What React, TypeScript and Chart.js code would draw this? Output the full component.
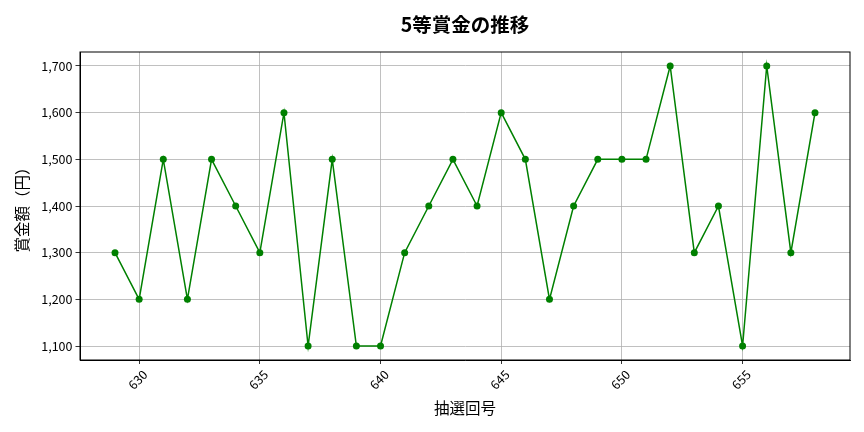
import React, { useEffect, useRef } from "react";
import { Chart, registerables } from "chart.js";

Chart.register(...registerables);

const drawNumbers: number[] = [629, 630, 631, 632, 633, 634, 635, 636, 637, 638, 639, 640, 641, 642, 643, 644, 645, 646, 647, 648, 649, 650, 651, 652, 653, 654, 655, 656, 657, 658];
const prizeValues: number[] = [1300, 1200, 1500, 1200, 1500, 1400, 1300, 1600, 1100, 1500, 1100, 1100, 1300, 1400, 1500, 1400, 1600, 1500, 1200, 1400, 1500, 1500, 1500, 1700, 1300, 1400, 1100, 1700, 1300, 1600];
const xTicks: number[] = [630, 635, 640, 645, 650, 655];
const yTicks: number[] = [1100, 1200, 1300, 1400, 1500, 1600, 1700];

const titleText = "5等賞金の推移";
const xLabel = "抽選回号";
const yLabel = "賞金額（円）";

const FONT = "'Noto Sans CJK JP', 'Noto Sans', sans-serif";

const frame = {
  id: "frame",
  afterDatasetsDraw(chart: any) {
    const { ctx, chartArea } = chart;
    ctx.save();
    ctx.strokeStyle = "#000";
    ctx.lineWidth = 1;
    ctx.strokeRect(chartArea.left, chartArea.top, chartArea.right - chartArea.left, chartArea.bottom - chartArea.top);
    ctx.restore();
  },
};

export default function App() {
  const ref = useRef<HTMLCanvasElement | null>(null);
  useEffect(() => {
    if (!ref.current) return;
    const xMin = Math.min(...drawNumbers);
    const xMax = Math.max(...drawNumbers);
    const xm = (xMax - xMin) * 0.05;
    const yMin = Math.min(...prizeValues);
    const yMax = Math.max(...prizeValues);
    const ym = (yMax - yMin) * 0.05;
    const chart = new Chart(ref.current, {
      type: "line",
      data: {
        datasets: [
          {
            data: drawNumbers.map((x, i) => ({ x, y: prizeValues[i] })),
            borderColor: "#008000",
            backgroundColor: "#008000",
            borderWidth: 1.5,
            pointRadius: 3.5,
            pointBorderWidth: 0,
            pointHoverRadius: 3.5,
            tension: 0,
            fill: false,
          },
        ],
      },
      plugins: [frame],
      options: {
        animation: false,
        responsive: false,
        maintainAspectRatio: false,
        layout: { padding: { left: 13, right: 14, top: 0, bottom: 15 } },
        plugins: {
          legend: { display: false },
          tooltip: { enabled: false },
          title: {
            display: true,
            fullSize: false,
            text: titleText,
            color: "#000",
            font: { family: FONT, size: 19.5, weight: "bold" },
            padding: { top: 13.3, bottom: 15.3 },
          },
        },
        scales: {
          x: {
            type: "linear",
            min: xMin - xm,
            max: xMax + xm,
            afterBuildTicks: (s: any) => {
              s.ticks = xTicks.map((v) => ({ value: v }));
            },
            afterFit: (s: any) => {
              s.height = 57;
            },
            ticks: {
              color: "#000",
              font: { family: FONT, size: 12.5 },
              minRotation: 45,
              maxRotation: 45,
              padding: 3,
              labelOffset: 6,
              callback: (v: any) => String(v),
            },
            grid: { color: "#b0b0b0", lineWidth: 0.8, tickColor: "#000", tickLength: 4 },
            border: { color: "#000", width: 1 },
            title: {
              display: true,
              text: xLabel,
              color: "#000",
              font: { family: FONT, size: 15.5 },
              padding: { top: 0, bottom: 0 },
            },
          },
          y: {
            type: "linear",
            min: yMin - ym,
            max: yMax + ym,
            afterBuildTicks: (s: any) => {
              s.ticks = yTicks.map((v) => ({ value: v }));
            },
            afterFit: (s: any) => {
              s.width = 67;
            },
            ticks: {
              color: "#000",
              font: { family: FONT, size: 12.5 },
              padding: 3,
              callback: (v: any) => Number(v).toLocaleString("en-US"),
            },
            grid: { color: "#b0b0b0", lineWidth: 0.8, tickColor: "#000", tickLength: 4.5 },
            border: { color: "#000", width: 1 },
            title: {
              display: true,
              text: yLabel,
              color: "#000",
              font: { family: FONT, size: 15.5 },
              padding: { top: 0, bottom: 0 },
            },
          },
        },
      },
    });
    return () => chart.destroy();
  }, []);
  return (
    <div style={{ position: "absolute", left: 0, top: 0, width: 864, height: 432, background: "#fff" }}>
      <canvas ref={ref} width={864} height={432} style={{ width: 864, height: 432 }} />
    </div>
  );
}
